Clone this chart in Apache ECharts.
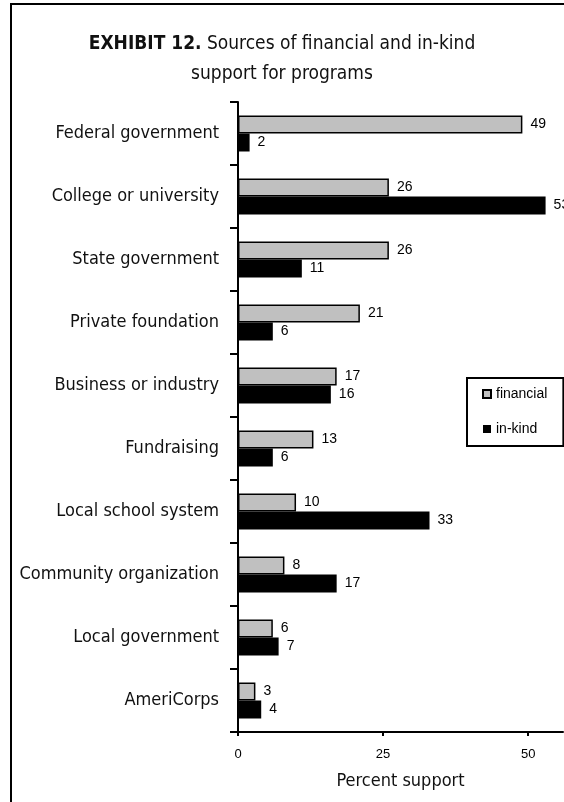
<!DOCTYPE html>
<html>
<head>
<meta charset="utf-8">
<script src="https://cdn.jsdelivr.net/npm/echarts@6/dist/echarts.min.js"></script>
<style>
  html, body { margin: 0; padding: 0; background: #fff; }
  #chart { width: 564px; height: 802px; }
</style>
</head>
<body>
<div id="chart"></div>
<script>
// Support sources, listed top to bottom
const categories = [
  'Federal government',
  'College or university',
  'State government',
  'Private foundation',
  'Business or industry',
  'Fundraising',
  'Local school system',
  'Community organization',
  'Local government',
  'AmeriCorps'
];
// Percent of programs reporting each kind of support
const financial = [49, 26, 26, 21, 17, 13, 10, 8, 6, 3];
const inKind = [2, 53, 11, 6, 16, 6, 33, 17, 7, 4];
const xTicks = [0, 25, 50];

const NARROW = "'DejaVu Sans Condensed', 'Liberation Sans Narrow', sans-serif";
const PLAIN = "'Liberation Sans', Arial, sans-serif";

const chart = echarts.init(document.getElementById('chart'), null, { renderer: 'canvas' });

const valueLabel = {
  show: true,
  position: 'right',
  distance: 8,
  color: '#000',
  fontFamily: PLAIN,
  fontSize: 14
};

chart.setOption({
  animation: false,
  backgroundColor: '#fff',
  graphic: [{
    type: 'rect',
    z: -10,
    shape: { x: 11, y: 4, width: 700, height: 900 },
    style: { fill: 'none', stroke: '#000', lineWidth: 2 }
  }],
  title: {
    left: 'center',
    top: 24,
    text: '{b|EXHIBIT 12.} Sources of financial and in-kind\nsupport for programs',
    textStyle: {
      fontFamily: NARROW,
      fontSize: 19,
      fontWeight: 'normal',
      color: '#111',
      lineHeight: 30,
      rich: {
        b: { fontFamily: NARROW, fontSize: 19, fontWeight: 'bold', color: '#111', lineHeight: 30 }
      }
    }
  },
  legend: {
    orient: 'vertical',
    left: 467,
    top: 378,
    padding: [9, 16, 10, 15],
    borderColor: '#000',
    borderWidth: 2,
    itemWidth: 8,
    itemHeight: 8,
    itemGap: 21,
    icon: 'rect',
    textStyle: { fontFamily: PLAIN, fontSize: 14, color: '#000' },
    data: ['financial', 'in-kind']
  },
  grid: {
    left: 238,
    top: 102,
    width: 325,
    bottom: 70,
    containLabel: false,
    outerBoundsMode: 'none'
  },
  xAxis: {
    type: 'value',
    min: 0,
    max: 56,
    interval: 25,
    name: 'Percent support',
    nameLocation: 'middle',
    nameGap: 40,
    nameTextStyle: { fontFamily: NARROW, fontSize: 18, color: '#111' },
    axisLine: { show: true, lineStyle: { color: '#000', width: 2 } },
    axisTick: { show: true, length: 4, lineStyle: { color: '#000', width: 2 } },
    axisLabel: {
      margin: 16,
      fontFamily: PLAIN,
      fontSize: 13,
      color: '#000',
      showMaxLabel: false,
      formatter: v => (xTicks.includes(v) ? String(v) : '')
    },
    splitLine: { show: false }
  },
  yAxis: {
    type: 'category',
    inverse: true,
    data: categories,
    axisLine: { show: true, lineStyle: { color: '#000', width: 2 } },
    axisTick: { show: true, length: 8, lineStyle: { color: '#000', width: 2 } },
    axisLabel: { margin: 19, fontFamily: NARROW, fontSize: 18, color: '#111' }
  },
  series: [
    {
      name: 'financial',
      type: 'bar',
      data: financial,
      barWidth: 18,
      barGap: '0%',
      itemStyle: { color: '#c0c0c0', borderColor: '#000', borderWidth: 1.5 },
      label: valueLabel
    },
    {
      name: 'in-kind',
      type: 'bar',
      data: inKind,
      barWidth: 18,
      barGap: '0%',
      itemStyle: { color: '#000' },
      label: valueLabel
    }
  ]
});
</script>
</body>
</html>
